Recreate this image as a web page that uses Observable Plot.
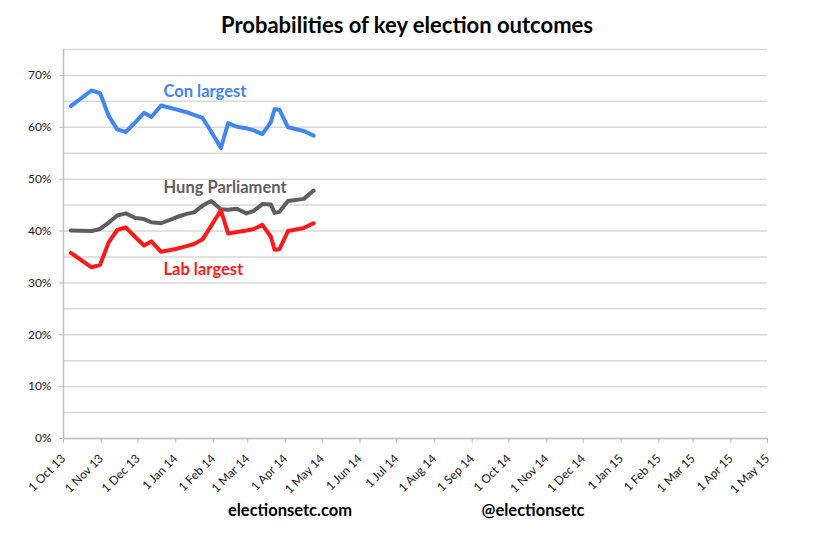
<!DOCTYPE html>
<html>
<head>
<meta charset="utf-8">
<script src="https://cdn.jsdelivr.net/npm/d3@7"></script>
<script src="https://cdn.jsdelivr.net/npm/@observablehq/plot@0.6"></script>
<style>
  body { margin: 0; background: #fff; font-family: Lato, "Open Sans", sans-serif; }
  #wrap { position: relative; width: 814px; height: 535px; overflow: hidden; }
  #chart { position: absolute; left: 0; top: 0; }
  .txt { position: absolute; font-weight: bold; color: #000; white-space: nowrap; transform: translate(-50%, -50%); }
  #title { left: 407px; top: 24px; font-size: 22px; }
  #foot1 { left: 290px; top: 510px; font-size: 16.5px; }
  #foot2 { left: 533px; top: 510px; font-size: 16.5px; }
</style>
</head>
<body>
<div id="wrap">
  <div id="chart"></div>
  <div class="txt" id="title">Probabilities of key election outcomes</div>
  <div class="txt" id="foot1">electionsetc.com</div>
  <div class="txt" id="foot2">@electionsetc</div>
</div>
<script>
// ---- data ----
const dates = [
  "2013-10-07","2013-10-24","2013-10-31","2013-11-07","2013-11-14","2013-11-21","2013-11-29",
  "2013-12-06","2013-12-12","2013-12-20","2014-01-02","2014-01-10","2014-01-16","2014-01-23",
  "2014-01-30","2014-02-07","2014-02-13","2014-02-20","2014-02-28","2014-03-06","2014-03-13",
  "2014-03-20","2014-03-23","2014-03-27","2014-04-03","2014-04-16","2014-04-24"
];
const conLargest = [
  64.1, 67.1, 66.6, 62.2, 59.6, 59.1, 61.0,
  62.8, 62.0, 64.2, 63.4, 62.9, 62.4, 61.8,
  59.2, 56.0, 60.8, 60.1, 59.8, 59.4, 58.7,
  61.0, 63.5, 63.4, 60.0, 59.3, 58.4
];
const hungParliament = [
  40.1, 40.0, 40.4, 41.6, 43.0, 43.4, 42.5,
  42.3, 41.7, 41.5, 42.7, 43.3, 43.6, 44.9,
  45.8, 44.2, 44.1, 44.3, 43.4, 43.9, 45.2,
  45.1, 43.5, 43.7, 45.8, 46.2, 47.8
];
const labLargest = [
  35.8, 33.0, 33.5, 37.8, 40.2, 40.7, 38.8,
  37.2, 38.0, 36.0, 36.6, 37.1, 37.5, 38.4,
  41.0, 44.0, 39.5, 39.8, 40.1, 40.4, 41.2,
  38.9, 36.4, 36.5, 40.0, 40.6, 41.5
];
const seriesNames = ["Con largest", "Hung Parliament", "Lab largest"];
const seriesColors = ["#4285f4", "#5e5e5e", "#ff1a1a"];
const labelDates = ["2013-12-22", "2013-12-22", "2013-12-22"];
const labelValues = [66.9, 48.4, 32.6];
const yTickValues = [0, 10, 20, 30, 40, 50, 60, 70];
const gridValues = [0, 5, 10, 15, 20, 25, 30, 35, 40, 45, 50, 55, 60, 65, 70, 75];
const xStart = "2013-10-01";
const xEnd = "2015-05-01";

// ---- build tables ----
const parse = d3.utcParse("%Y-%m-%d");
const seriesValues = [conLargest, hungParliament, labLargest];
const rows = [];
seriesNames.forEach((name, s) => {
  dates.forEach((d, i) => rows.push({ series: name, date: parse(d), value: seriesValues[s][i] / 100 }));
});
const labels = seriesNames.map((name, i) => ({ series: name, date: parse(labelDates[i]), value: labelValues[i] / 100 }));
const monthTicks = d3.utcMonth.range(parse(xStart), d3.utcDay.offset(parse(xEnd), 1));

const chart = Plot.plot({
  width: 814,
  height: 535,
  marginLeft: 63,
  marginRight: 47,
  marginTop: 49,
  marginBottom: 97,
  style: { fontFamily: "Lato, 'Open Sans', sans-serif", background: "#fff" },
  x: { type: "utc", domain: [parse(xStart), parse(xEnd)] },
  y: { domain: [0, 0.75] },
  color: { domain: seriesNames, range: seriesColors },
  marks: [
    Plot.ruleY(gridValues.map(v => v / 100), { stroke: "#d9d9d9", strokeWidth: 1.5 }),
    Plot.axisY({
      ticks: yTickValues.map(v => v / 100),
      tickFormat: d3.format(".0%"),
      tickSize: 4,
      tickPadding: 8,
      stroke: "#bfbfbf",
      fill: "#222",
      fontSize: 12,
      label: null
    }),
    Plot.axisX({
      ticks: monthTicks,
      tickFormat: d3.utcFormat("%-d %b %y"),
      tickRotate: -45,
      tickSize: 5,
      tickPadding: 13,
      stroke: "#bfbfbf",
      fill: "#222",
      fontSize: 12,
      label: null
    }),
    Plot.ruleX([parse(xStart)], { stroke: "#bfbfbf", strokeWidth: 1.5 }),
    Plot.ruleY([0], { stroke: "#bfbfbf", strokeWidth: 1.5 }),
    Plot.line(rows, {
      x: "date", y: "value", z: "series", stroke: "series",
      strokeWidth: 4, strokeLinejoin: "round", strokeLinecap: "round"
    }),
    Plot.text(labels, {
      x: "date", y: "value", text: "series", fill: "series",
      fontWeight: "bold", fontSize: 16.5, textAnchor: "start"
    })
  ]
});
document.getElementById("chart").appendChild(chart);
</script>
</body>
</html>
